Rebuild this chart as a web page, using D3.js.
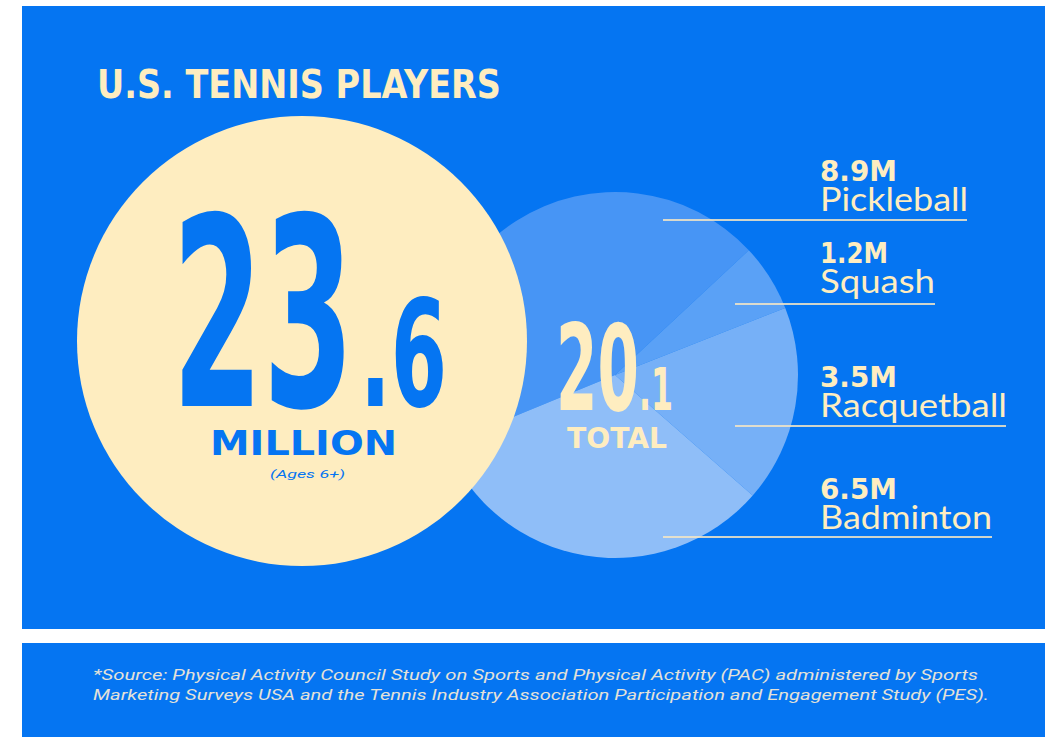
<!DOCTYPE html>
<html>
<head>
<meta charset="utf-8">
<script src="https://cdn.jsdelivr.net/npm/d3@7"></script>
<style>
  html, body { margin: 0; padding: 0; background: #ffffff; }
  svg { display: block; }
</style>
</head>
<body>
<svg id="chart" width="1053" height="737"></svg>
<script>
// ---- data ----
const title = "U.S. TENNIS PLAYERS";
const tennisValue = ["23", ".6"];
const tennisUnit = "MILLION";
const tennisNote = "(Ages 6+)";
const categories = ["Pickleball", "Squash", "Racquetball", "Badminton"];
const values = [8.9, 1.2, 3.5, 6.5];
const valueLabels = ["8.9M", "1.2M", "3.5M", "6.5M"];
const totalValue = ["20", ".1"];
const totalLabel = "TOTAL";
const sourceLines = [
  "*Source: Physical Activity Council Study on Sports and Physical Activity (PAC) administered by Sports",
  "Marketing Surveys USA and the Tennis Industry Association Participation and Engagement Study (PES)."
];

// ---- style ----
const BLUE = "#0575F2";
const CREAM = "#FEEDC0";
const sliceColors = ["#4795F5", "#5AA1F6", "#76B0F7", "#8FBEF8"];

const svg = d3.select("#chart");

// panels
svg.append("rect").attr("x", 22).attr("y", 6).attr("width", 1023).attr("height", 623).attr("fill", BLUE);
svg.append("rect").attr("x", 22).attr("y", 643).attr("width", 1023).attr("height", 94).attr("fill", BLUE);

// pie
const cx = 615, cy = 375, R = 183;
const deg = Math.PI / 180;
const pie = d3.pie().sort(null).value(d => d.v)
  .startAngle(-112.4 * deg).endAngle((360 - 112.4) * deg);
const arc = d3.arc().innerRadius(0).outerRadius(R);
const data = categories.map((c, i) => ({ c, v: values[i], lab: valueLabels[i] }));
const color = d3.scaleOrdinal().domain(categories).range(sliceColors);

svg.append("g").attr("transform", `translate(${cx},${cy})`)
  .selectAll("path").data(pie(data)).join("path")
  .attr("d", arc).attr("fill", d => color(d.data.c));

// tennis circle
svg.append("circle").attr("cx", 302).attr("cy", 341).attr("r", 225).attr("fill", CREAM);

// title
svg.append("text").attr("x", 97).attr("y", 98).text(title)
  .attr("font-family", "'Liberation Sans Narrow','DejaVu Sans Condensed','Liberation Sans',sans-serif")
  .attr("font-weight", "bold").attr("font-size", 39).attr("fill", CREAM)
  .attr("textLength", 404).attr("lengthAdjust", "spacingAndGlyphs");

// big number
const bigFont = "'Liberation Sans Narrow','DejaVu Sans Condensed','Liberation Sans',sans-serif";
svg.append("text").attr("x", 172).attr("y", 406).text(tennisValue[0])
  .attr("font-family", bigFont).attr("font-weight", "bold").attr("font-size", 263)
  .attr("fill", BLUE).attr("textLength", 182).attr("lengthAdjust", "spacingAndGlyphs");
svg.append("text").attr("x", 360).attr("y", 406).text(tennisValue[1])
  .attr("font-family", bigFont).attr("font-weight", "bold").attr("font-size", 148)
  .attr("fill", BLUE).attr("textLength", 87).attr("lengthAdjust", "spacingAndGlyphs");
svg.append("text").attr("x", 210).attr("y", 455).text(tennisUnit)
  .attr("font-family", "'DejaVu Sans',sans-serif").attr("font-weight", "bold").attr("font-size", 34)
  .attr("fill", BLUE).attr("textLength", 187).attr("lengthAdjust", "spacingAndGlyphs");
svg.append("text").attr("x", 270).attr("y", 478).text(tennisNote)
  .attr("font-family", "Roboto,sans-serif").attr("font-style", "italic").attr("font-size", 11.5)
  .attr("fill", BLUE).attr("textLength", 75).attr("lengthAdjust", "spacingAndGlyphs");

// total
svg.append("text").attr("x", 556).attr("y", 410).text(totalValue[0])
  .attr("font-family", bigFont).attr("font-weight", "bold").attr("font-size", 119)
  .attr("fill", CREAM).attr("textLength", 83).attr("lengthAdjust", "spacingAndGlyphs");
svg.append("text").attr("x", 639).attr("y", 410).text(totalValue[1])
  .attr("font-family", bigFont).attr("font-weight", "bold").attr("font-size", 58)
  .attr("fill", CREAM).attr("textLength", 34).attr("lengthAdjust", "spacingAndGlyphs");
svg.append("text").attr("x", 567).attr("y", 448).text(totalLabel)
  .attr("font-family", "'DejaVu Sans',sans-serif").attr("font-weight", "bold").attr("font-size", 28)
  .attr("fill", CREAM).attr("textLength", 100).attr("lengthAdjust", "spacingAndGlyphs");

// labels
const labelPos = [
  { vy: 181, ny: 211, ly: 220, lx0: 663, lx1: 967, vw: 77, nw: 148 },
  { vy: 263, ny: 293, ly: 304, lx0: 735, lx1: 935, vw: 68, nw: 115 },
  { vy: 387, ny: 417, ly: 426, lx0: 735, lx1: 1006, vw: 77, nw: 187 },
  { vy: 499, ny: 529, ly: 537, lx0: 663, lx1: 992, vw: 77, nw: 172 }
];
const lg = svg.append("g");
data.forEach((d, i) => {
  const p = labelPos[i];
  lg.append("text").attr("x", 820).attr("y", p.vy).text(d.lab)
    .attr("font-family", "'DejaVu Sans',sans-serif").attr("font-weight", "bold").attr("font-size", 28)
    .attr("fill", CREAM).attr("textLength", p.vw).attr("lengthAdjust", "spacingAndGlyphs");
  lg.append("text").attr("x", 820).attr("y", p.ny).text(d.c)
    .attr("font-family", "Lato,'Open Sans',sans-serif").attr("font-size", 32)
    .attr("fill", CREAM).attr("textLength", p.nw).attr("lengthAdjust", "spacingAndGlyphs");
  lg.append("line").attr("x1", p.lx0).attr("x2", p.lx1).attr("y1", p.ly).attr("y2", p.ly)
    .attr("stroke", "#F3E6C6").attr("stroke-width", 2).attr("opacity", 0.85);
});

// source
const srcW = [885, 896];
sourceLines.forEach((s, i) => {
  svg.append("text").attr("x", 93).attr("y", 680 + i * 20).text(s)
    .attr("font-family", "Roboto,sans-serif").attr("font-style", "italic").attr("font-size", 14.5)
    .attr("fill", "#E4E2D8").attr("textLength", srcW[i]).attr("lengthAdjust", "spacingAndGlyphs");
});
</script>
</body>
</html>
